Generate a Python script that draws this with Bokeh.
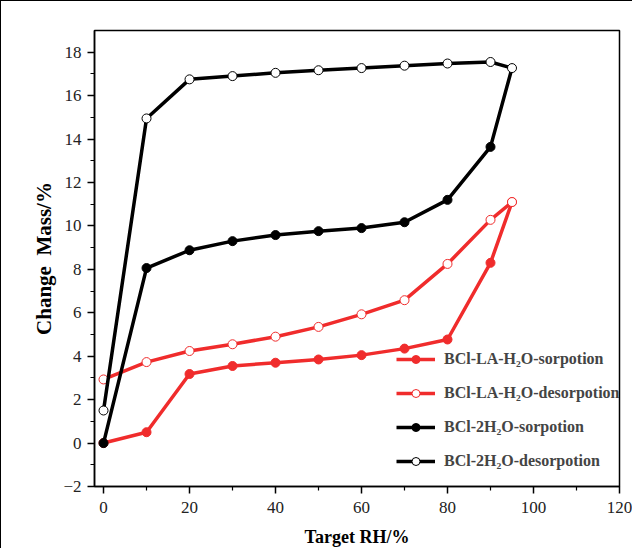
from bokeh.plotting import figure
from bokeh.models import Legend, LegendItem, Range1d, FixedTicker
from bokeh.embed import file_html
from bokeh.resources import INLINE

rh_sorp = [0, 10, 20, 30, 40, 50, 60, 70, 80, 90, 95]
rh_desorp = [95, 90, 80, 70, 60, 50, 40, 30, 20, 10, 0]

la_sorp = [0, 0.5, 3.18, 3.55, 3.7, 3.85, 4.05, 4.35, 4.77, 8.3, 11.1]
la_desorp = [11.1, 10.28, 8.25, 6.58, 5.93, 5.35, 4.9, 4.55, 4.24, 3.73, 2.93]
bcl_sorp = [0, 8.06, 8.88, 9.3, 9.58, 9.76, 9.9, 10.17, 11.2, 13.64, 17.27]
bcl_desorp = [17.27, 17.55, 17.48, 17.38, 17.27, 17.17, 17.05, 16.9, 16.75, 14.95, 1.5]

labels = ["BCl-LA-H\u2082O-sorpotion", "BCl-LA-H\u2082O-desorpotion",
          "BCl-2H\u2082O-sorpotion", "BCl-2H\u2082O-desorpotion"]

RED = "#f02c2c"
BLACK = "#000000"

p = figure(width=632, height=548, output_backend="svg", toolbar_location=None,
           x_range=Range1d(-2.1, 120), y_range=Range1d(-2, 19),
           min_border_left=93, min_border_right=14, min_border_top=29, min_border_bottom=56)
p.styles = {"border-top": "1.5px solid black", "border-left": "1.5px solid black"}
p.grid.visible = False
p.outline_line_color = "black"
p.outline_line_width = 1.5
p.background_fill_color = "white"
p.border_fill_color = "white"

p.xaxis.ticker = FixedTicker(ticks=[0, 20, 40, 60, 80, 100, 120],
                             minor_ticks=[10, 30, 50, 70, 90, 110])
p.yaxis.ticker = FixedTicker(ticks=list(range(-2, 19, 2)),
                             minor_ticks=list(range(-2, 19, 1)))
for ax in (p.xaxis[0], p.yaxis[0]):
    ax.axis_line_width = 1.5
    ax.major_tick_line_width = 1.5
    ax.minor_tick_line_width = 1.2
    ax.major_tick_out = 7
    ax.major_tick_in = 0
    ax.minor_tick_out = 4
    ax.minor_tick_in = 0
    ax.major_label_text_font = "Liberation Sans Narrow"
    ax.major_label_text_font_size = "17px"
    ax.major_label_text_color = "#222222"
    ax.axis_label_text_font = "Liberation Serif"
    ax.axis_label_text_font_style = "bold"
    ax.axis_label_text_color = "black"
p.xaxis.axis_label_text_font_size = "18px"
p.yaxis.axis_label_text_font_size = "21px"
p.xaxis.axis_label = "Target RH/%"
p.yaxis.axis_label = "Change\u00a0\u00a0Mass/%"
p.xaxis.major_label_standoff = 8
p.yaxis.major_label_standoff = 6
p.yaxis.axis_label_standoff = 4
p.xaxis.axis_label_standoff = 11

LW = 3.5
MS = 9

l1 = p.line(rh_sorp, la_sorp, line_color=RED, line_width=LW)
c1 = p.scatter(rh_sorp, la_sorp, marker="circle", size=MS, fill_color=RED, line_color=RED)
l2 = p.line(rh_desorp, la_desorp, line_color=RED, line_width=LW)
c2 = p.scatter(rh_desorp, la_desorp, marker="circle", size=MS, fill_color="white", line_color=RED, line_width=1)
l3 = p.line(rh_sorp, bcl_sorp, line_color=BLACK, line_width=LW)
c3 = p.scatter(rh_sorp[:-1], bcl_sorp[:-1], marker="circle", size=MS, fill_color=BLACK, line_color=BLACK)
l4 = p.line(rh_desorp, bcl_desorp, line_color=BLACK, line_width=LW)
c4 = p.scatter(rh_desorp, bcl_desorp, marker="circle", size=MS, fill_color="white", line_color=BLACK, line_width=1)

legend = Legend(items=[LegendItem(label=labels[0], renderers=[l1, c1]),
                       LegendItem(label=labels[1], renderers=[l2, c2]),
                       LegendItem(label=labels[2], renderers=[l3, c3]),
                       LegendItem(label=labels[3], renderers=[l4, c4])],
                location=(292, 5))
legend.border_line_alpha = 0
legend.background_fill_alpha = 0
legend.label_text_font = "Liberation Serif"
legend.label_text_font_style = "bold"
legend.label_text_font_size = "16px"
legend.glyph_width = 39
legend.spacing = 14
legend.label_standoff = 9
p.add_layout(legend, "center")

open("out.html", "w").write(file_html(p, INLINE))
